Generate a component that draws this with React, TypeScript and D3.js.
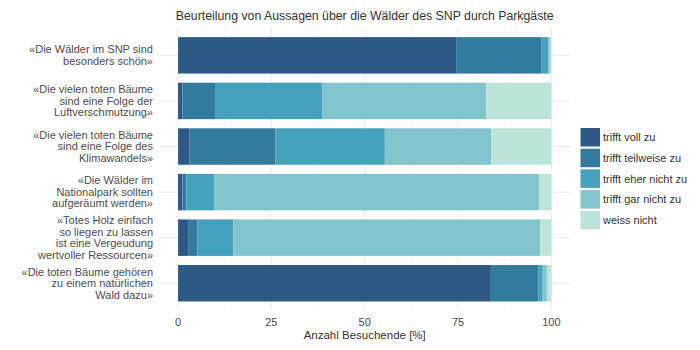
import React from "react";
import * as d3 from "d3";

// statements (each as lines of the wrapped label)
const statements: string[][] = [
  ["«Die Wälder im SNP sind", "besonders schön»"],
  ["«Die vielen toten Bäume", "sind eine Folge der", "Luftverschmutzung»"],
  ["«Die vielen toten Bäume", "sind eine Folge des", "Klimawandels»"],
  ["«Die Wälder im", "Nationalpark sollten", "aufgeräumt werden»"],
  ["«Totes Holz einfach", "so liegen zu lassen", "ist eine Vergeudung", "wertvoller Ressourcen»"],
  ["«Die toten Bäume gehören", "zu einem natürlichen", "Wald dazu»"],
];

const answers = ["trifft voll zu", "trifft teilweise zu", "trifft eher nicht zu", "trifft gar nicht zu", "weiss nicht"];
const colors = ["#2c5985", "#337b9e", "#46a1bc", "#80c4cc", "#bde4da"];

// percent per statement, in answer order
const vollZu = [74.5, 1.2, 3.1, 1.2, 2.7, 83.8];
const teilweiseZu = [22.9, 8.7, 23.0, 1.0, 2.5, 12.7];
const eherNichtZu = [1.8, 28.7, 29.3, 7.5, 9.6, 1.0];
const garNichtZu = [0.4, 44.0, 28.5, 87.1, 82.2, 1.3];
const weissNicht = [0.4, 17.4, 16.1, 3.2, 3.0, 1.2];

const xTicks = [0, 25, 50, 75, 100];

const W = 700;
const H = 350;
const margin = { top: 28, right: 130, bottom: 39.4, left: 159.4 };

export default function App() {
  const series = [vollZu, teilweiseZu, eherNichtZu, garNichtZu, weissNicht];
  const rows = statements.map((_, i) => {
    const o: Record<string, number> = { i };
    answers.forEach((a, k) => (o[a] = series[k][i]));
    return o;
  });
  const stacked = d3.stack<Record<string, number>>().keys(answers)(rows);

  const x = d3
    .scaleLinear()
    .domain([-5, 105])
    .range([margin.left, W - margin.right]);
  const y = d3
    .scaleBand<number>()
    .domain(statements.map((_, i) => i))
    .range([margin.top, H - margin.bottom])
    .paddingInner(0.2)
    .paddingOuter(0.2);

  const minor = d3.range(12.5, 100, 25);
  const font = "'Liberation Sans', Arial, sans-serif";
  const legendTop = 128;
  const legendStep = 20.7;
  const midX = (margin.left + W - margin.right) / 2;

  return (
    <svg width={W} height={H} style={{ position: "absolute", left: 0, top: 0, fontFamily: font }}>
      <rect width={W} height={H} fill="#ffffff" />
      {minor.map((t) => (
        <line key={"m" + t} x1={x(t)} x2={x(t)} y1={margin.top} y2={H - margin.bottom} stroke="#f3f3f3" strokeWidth={0.6} />
      ))}
      {xTicks.map((t) => (
        <line key={"g" + t} x1={x(t)} x2={x(t)} y1={margin.top} y2={H - margin.bottom} stroke="#ebebeb" strokeWidth={1} />
      ))}
      {statements.map((_, i) => {
        const cy = y(i)! + y.bandwidth() / 2;
        return <line key={"h" + i} x1={margin.left} x2={W - margin.right} y1={cy} y2={cy} stroke="#ebebeb" strokeWidth={1} />;
      })}
      {stacked.map((s, k) => (
        <g key={s.key} fill={colors[k]}>
          {s.map((d, i) => (
            <rect key={i} x={x(d[0])} y={y(i)} width={Math.max(0, x(d[1]) - x(d[0]))} height={y.bandwidth()} />
          ))}
        </g>
      ))}
      {statements.map((lines, i) => {
        const cy = y(i)! + y.bandwidth() / 2;
        const lh = 11.5;
        const start = cy - ((lines.length - 1) * lh) / 2;
        return (
          <text key={"l" + i} textAnchor="end" fontSize={11} fill="#4d4d4d">
            {lines.map((ln, j) => (
              <tspan key={j} x={153} y={start + j * lh} dy="0.35em">
                {ln}
              </tspan>
            ))}
          </text>
        );
      })}
      {xTicks.map((t) => (
        <text key={"t" + t} x={x(t)} y={H - margin.bottom + 15} textAnchor="middle" fontSize={11} fill="#4d4d4d">
          {t}
        </text>
      ))}
      <text x={midX} y={338.5} textAnchor="middle" fontSize={11.5} fill="#333333">
        Anzahl Besuchende [%]
      </text>
      <text x={midX} y={19.5} textAnchor="middle" fontSize={12.3} fill="#333333">
        Beurteilung von Aussagen über die Wälder des SNP durch Parkgäste
      </text>
      {answers.map((a, k) => (
        <g key={a} transform={`translate(580.5, ${legendTop + k * legendStep})`}>
          <rect width={19.5} height={18.5} fill={colors[k]} />
          <text x={22.5} y={9.5} dy="0.35em" fontSize={11} fill="#333333">
            {a}
          </text>
        </g>
      ))}
    </svg>
  );
}
